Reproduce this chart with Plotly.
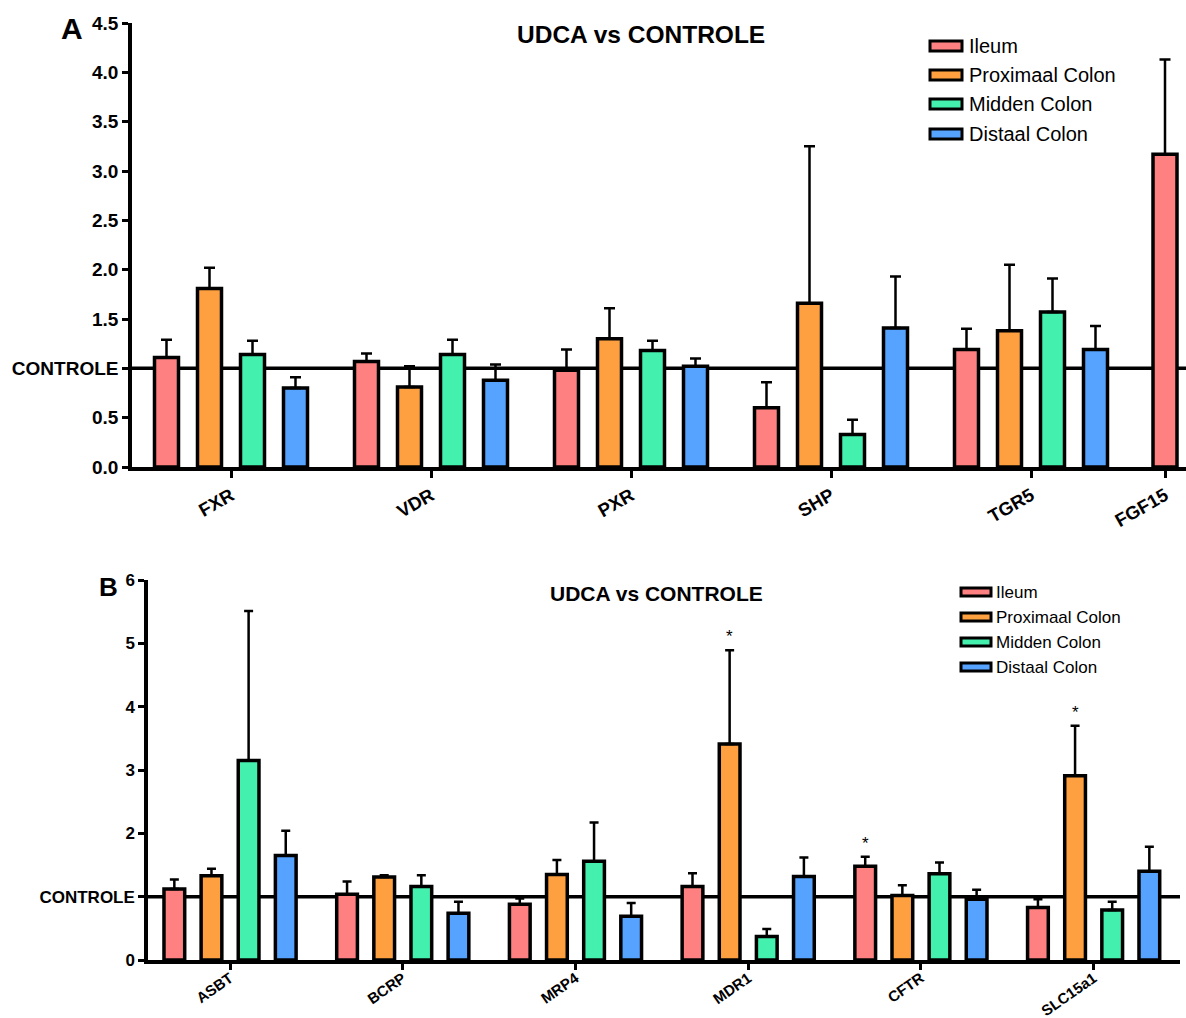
import plotly.graph_objects as go

# ---------------- data ----------------
SERIES = ["Ileum", "Proximaal Colon", "Midden Colon", "Distaal Colon"]

A_CATEGORIES = ["FXR", "VDR", "PXR", "SHP", "TGR5", "FGF15"]
A_ILEUM = [1.11, 1.07, 0.98, 0.60, 1.19, 3.17]
A_ILEUM_ERR = [0.18, 0.08, 0.21, 0.26, 0.21, 0.96]
A_PROX = [1.81, 0.81, 1.30, 1.66, 1.38, None]
A_PROX_ERR = [0.21, 0.21, 0.31, 1.59, 0.67, None]
A_MID = [1.14, 1.14, 1.18, 0.33, 1.57, None]
A_MID_ERR = [0.14, 0.15, 0.10, 0.15, 0.34, None]
A_DIST = [0.80, 0.88, 1.02, 1.41, 1.19, None]
A_DIST_ERR = [0.11, 0.16, 0.08, 0.52, 0.24, None]
A_YTICKVALS = [0, 0.5, 1.0, 1.5, 2.0, 2.5, 3.0, 3.5, 4.0, 4.5]
A_YTICKTEXT = ["0.0", "0.5", "CONTROLE", "1.5", "2.0", "2.5", "3.0", "3.5", "4.0", "4.5"]

B_CATEGORIES = ["ASBT", "BCRP", "MRP4", "MDR1", "CFTR", "SLC15a1"]
B_ILEUM = [1.12, 1.04, 0.88, 1.16, 1.48, 0.83]
B_ILEUM_ERR = [0.15, 0.20, 0.09, 0.21, 0.15, 0.13]
B_PROX = [1.33, 1.31, 1.35, 3.41, 1.02, 2.91]
B_PROX_ERR = [0.11, 0.03, 0.23, 1.48, 0.16, 0.79]
B_MID = [3.15, 1.16, 1.56, 0.37, 1.36, 0.79]
B_MID_ERR = [2.36, 0.18, 0.61, 0.12, 0.18, 0.13]
B_DIST = [1.65, 0.74, 0.69, 1.32, 0.96, 1.40]
B_DIST_ERR = [0.39, 0.18, 0.21, 0.30, 0.15, 0.39]
B_YTICKVALS = [0, 1, 2, 3, 4, 5, 6]
B_YTICKTEXT = ["0", "CONTROLE", "2", "3", "4", "5", "6"]
B_SIGNIFICANT = [("MDR1", "Proximaal Colon"), ("CFTR", "Ileum"), ("SLC15a1", "Proximaal Colon")]

TITLE = "UDCA vs CONTROLE"

# ---------------- style / layout ----------------
COLORS = ["#FF8080", "#FFA040", "#44F0AE", "#55A2FF"]
W, H = 1186, 1018
FONT = "Liberation Sans"
A_GROUP_POS = [0, 1, 2, 3, 4, 4.67]
B_GROUP_POS = [0, 1, 2, 3, 4, 5]
STEP = 0.215
BAR_W = 0.12


def px(x):
    return x / W


def py(y):
    return 1 - y / H


A_VALS = [A_ILEUM, A_PROX, A_MID, A_DIST]
A_ERRS = [A_ILEUM_ERR, A_PROX_ERR, A_MID_ERR, A_DIST_ERR]
B_VALS = [B_ILEUM, B_PROX, B_MID, B_DIST]
B_ERRS = [B_ILEUM_ERR, B_PROX_ERR, B_MID_ERR, B_DIST_ERR]

fig = go.Figure()


def bar_positions(vals, group_pos):
    """x position for each (series, category) – bars centered around group position."""
    n_cat = len(group_pos)
    pos = [[None] * n_cat for _ in vals]
    for j in range(n_cat):
        present = [i for i in range(len(vals)) if vals[i][j] is not None]
        n = len(present)
        for k, i in enumerate(present):
            pos[i][j] = group_pos[j] + (k - (n - 1) / 2) * STEP
    return pos


def add_panel(vals, errs, group_pos, xa, ya, capw):
    pos = bar_positions(vals, group_pos)
    for i, name in enumerate(SERIES):
        xs, ys, es = [], [], []
        for j in range(len(group_pos)):
            if vals[i][j] is None:
                continue
            xs.append(pos[i][j])
            ys.append(vals[i][j])
            es.append(errs[i][j])
        fig.add_trace(go.Bar(
            x=xs, y=ys, name=name, width=BAR_W, showlegend=False,
            marker=dict(color=COLORS[i], line=dict(color="black", width=3.5)),
            error_y=dict(type="data", array=es, arrayminus=[0] * len(es), symmetric=False,
                         color="black", thickness=2.5, width=capw),
            xaxis=xa, yaxis=ya,
        ))
    return pos


posA = add_panel(A_VALS, A_ERRS, A_GROUP_POS, "x", "y", 5.5)
posB = add_panel(B_VALS, B_ERRS, B_GROUP_POS, "x2", "y2", 4.5)

common = dict(showgrid=False, zeroline=False, showline=True, linewidth=3.5, linecolor="black",
              tickmode="array", ticks="outside", tickwidth=3, tickcolor="black",
              automargin=False, fixedrange=True)

fig.update_layout(
    width=W, height=H, margin=dict(l=0, r=0, t=0, b=0, autoexpand=False),
    paper_bgcolor="white", plot_bgcolor="white",
    barmode="overlay", showlegend=False,
    xaxis=dict(domain=[px(132), 1], range=[-0.495, 4.775],
               tickvals=A_GROUP_POS, ticktext=A_CATEGORIES, ticklen=7,
               tickangle=-30, tickfont=dict(family=FONT, size=18.5, color="black", weight="bold"),
               anchor="y", **common),
    yaxis=dict(domain=[py(467), py(23)], range=[0, 4.5],
               tickvals=A_YTICKVALS, ticktext=A_YTICKTEXT, ticklen=6,
               tickfont=dict(family=FONT, size=19, color="black", weight="bold"),
               anchor="x", **common),
    xaxis2=dict(domain=[px(148), px(1180)], range=[-0.475, 5.5],
                tickvals=B_GROUP_POS, ticktext=B_CATEGORIES, ticklen=6,
                ticklabelstandoff=-6,
                tickangle=-35, tickfont=dict(family=FONT, size=15, color="black", weight="bold"),
                anchor="y2", **common),
    yaxis2=dict(domain=[py(960), py(580)], range=[0, 6],
                tickvals=B_YTICKVALS, ticktext=B_YTICKTEXT, ticklen=6,
                tickfont=dict(family=FONT, size=17, color="black", weight="bold"),
                anchor="x2", **common),
)

# Control reference lines (y = 1)
for xr, yr in (("x domain", "y"), ("x2 domain", "y2")):
    fig.add_shape(type="line", xref=xr, yref=yr, x0=0, x1=1, y0=1, y1=1,
                  line=dict(color="black", width=3.5), layer="below")


def text_at(x, y, text, size, bold=True, xanchor="center"):
    fig.add_annotation(x=px(x), y=py(y), xref="paper", yref="paper", text=text, showarrow=False,
                       xanchor=xanchor, yanchor="middle",
                       font=dict(family=FONT, size=size, color="black",
                                 weight="bold" if bold else "normal"))


# Titles and panel letters
text_at(641, 34, TITLE, 24.5)
text_at(656, 593, TITLE, 21)
text_at(72, 29, "A", 30)
text_at(108, 587, "B", 26)

# Significance stars
for cat, ser in B_SIGNIFICANT:
    j = B_CATEGORIES.index(cat)
    i = SERIES.index(ser)
    top = B_VALS[i][j] + B_ERRS[i][j]
    fig.add_annotation(x=posB[i][j], y=top, xref="x2", yref="y2", text="*", showarrow=False,
                       xanchor="center", yanchor="bottom", yshift=2,
                       font=dict(family=FONT, size=17, color="black"))


# Legends (drawn manually with wide swatches)
def add_legend(x0, x1, y_rows, hh, tx, fsize):
    for i, name in enumerate(SERIES):
        yc = y_rows[i]
        fig.add_shape(type="rect", xref="paper", yref="paper",
                      x0=px(x0), x1=px(x1), y0=py(yc + hh), y1=py(yc - hh),
                      fillcolor=COLORS[i], line=dict(color="black", width=3))
        text_at(tx, yc, name, fsize, bold=False, xanchor="left")


add_legend(930, 962, [46, 75, 104, 134], 5, 967, 20)
add_legend(961, 991, [592, 617, 642, 667], 4, 994, 17)

fig.write_html("out.html")
